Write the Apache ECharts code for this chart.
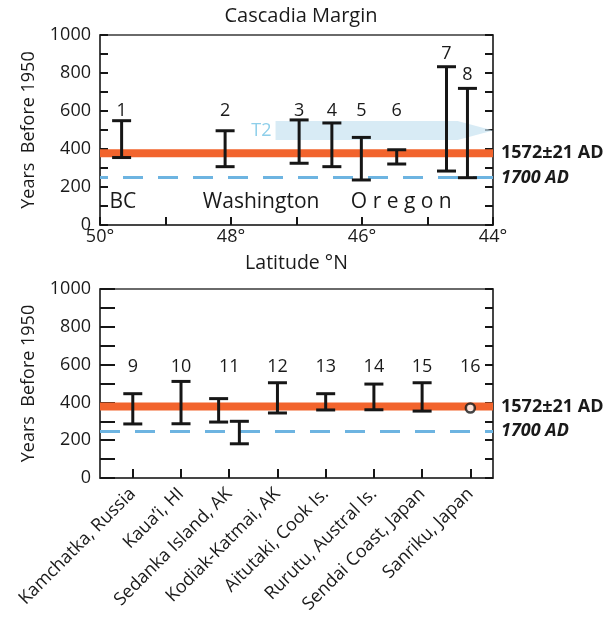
<!DOCTYPE html>
<html>
<head>
<meta charset="utf-8">
<script src="https://cdn.jsdelivr.net/npm/echarts@6/dist/echarts.min.js"></script>
<style>
html,body{margin:0;padding:0;background:#fff;}
#chart{width:611px;height:619px;}
</style>
</head>
<body>
<div id="chart"></div>
<script>
// ---------- DATA ----------
// Cascadia (top panel): latitude (°N), low / high age (years before 1950)
const cascadiaIds  = ['1','2','3','4','5','6','7','8'];
const cascadiaLat  = [49.67, 48.09, 46.96, 46.46, 46.01, 45.47, 44.71, 44.39];
const cascadiaLow  = [355, 307, 325, 307, 237, 321, 284, 249];
const cascadiaHigh = [549, 496, 553, 537, 461, 396, 833, 719];
const regionNames  = ['BC', 'Washington', 'O r e g o n'];
const regionLat    = [49.65, 47.54, 45.40];
const regionAge    = [123, 123, 123];
// T2 arrow (latitude: start, arrow base, tip; age: low, high, tip)
const t2Lat  = [47.32, 44.54, 44.0];
const t2Age  = [447, 547, 497];
const latTickLabels = [50, 48, 46, 44];

// Pacific sites (bottom panel)
const pacificSites = ['Kamchatka, Russia', 'Kaua\u2019i, HI', 'Sedanka Island, AK', 'Kodiak-Katmai, AK',
                      'Aitutaki, Cook Is.', 'Rurutu, Austral Is.', 'Sendai Coast, Japan', 'Sanriku, Japan'];
const pacificIds   = ['9','10','11','12','13','14','15','16'];
const pacificBarX    = [0, 1, 1.78, 2.21, 3, 4, 5, 6];
const pacificBarLow  = [286, 287, 296, 181, 344, 360, 361, 354];
const pacificBarHigh = [446, 511, 420, 300, 504, 446, 497, 504];
const pacificPointX  = [7];
const pacificPointAge = [370];

// Reference events
const bandLow = 357, bandHigh = 399, bandCenter = 378;  // 1572±21 AD
const bandLabel = '1572\u00b121 AD';
const event1700 = 250;                                   // 1700 AD
const event1700Label = '1700 AD';

// ---------- STYLE ----------
const FONT = 'Open Sans';
const INK = '#161616';
const TXT = '#1a1a1a';
const FRAME = '#3a3a3a';
const ORANGE = '#f2642d';
const DASH = '#6db4e1';

function errorBarRender(params, api) {
  const x = api.value(0), lo = api.value(1), hi = api.value(2);
  const p1 = api.coord([x, lo]), p2 = api.coord([x, hi]);
  const hw = 9.5;
  const st = {stroke: INK, lineWidth: 3};
  return {type: 'group', children: [
    {type: 'line', shape: {x1: p1[0], y1: p1[1], x2: p2[0], y2: p2[1]}, style: st},
    {type: 'line', shape: {x1: p1[0]-hw, y1: p1[1], x2: p1[0]+hw, y2: p1[1]}, style: st},
    {type: 'line', shape: {x1: p2[0]-hw, y1: p2[1], x2: p2[0]+hw, y2: p2[1]}, style: st}
  ]};
}
function makeTextRender(size) {
  return function (params, api) {
    const p = api.coord([api.value(0), api.value(1)]);
    return {type: 'text', x: p[0], y: p[1], style: {
      text: String(api.value(2)), font: size + 'px "' + FONT + '"', fill: TXT,
      textAlign: 'center', textVerticalAlign: 'middle'}};
  };
}
function idLabelAge(hi, base) { return hi > base ? hi + 70 : base; }

function yAxes(gridIndex, leftTickLen) {
  const common = {type: 'value', gridIndex: gridIndex, min: 0, max: 1000, interval: 100,
    splitLine: {show: false},
    axisLine: {show: true, onZero: false, lineStyle: {color: FRAME, width: 1.5}}};
  return [
    Object.assign({}, common, {position: 'left',
      name: 'Years  Before 1950', nameLocation: 'middle', nameGap: 62,
      nameTextStyle: {fontFamily: FONT, fontSize: 18, color: TXT},
      axisTick: {show: true, inside: true, length: leftTickLen, lineStyle: {color: INK, width: 2}},
      axisLabel: {show: true, margin: 9, fontFamily: FONT, fontSize: 18, color: TXT,
        formatter: v => (v % 200 === 0 ? String(v) : '')}}),
    Object.assign({}, common, {position: 'right',
      axisTick: {show: true, inside: true, length: 8, lineStyle: {color: INK, width: 2}},
      axisLabel: {show: false}})
  ];
}
function refLines(pos) {
  return {silent: true, symbol: ['none', 'none'], data: [
    {yAxis: bandCenter, lineStyle: {color: 'rgba(0,0,0,0)', width: 1},
      label: {show: true, position: pos, distance: 8, formatter: bandLabel,
        fontFamily: FONT, fontSize: 18, fontWeight: 'bold', color: TXT}},
    {yAxis: event1700, lineStyle: {color: DASH, width: 3, type: [20, 15]},
      label: {show: true, position: pos, distance: 8, formatter: event1700Label,
        fontFamily: FONT, fontSize: 18, fontWeight: 'bold', fontStyle: 'italic', color: TXT}}
  ]};
}

const chart = echarts.init(document.getElementById('chart'), null, {renderer: 'canvas'});

const option = {
  animation: false,
  backgroundColor: '#fff',
  title: {text: 'Cascadia Margin', left: 296, top: 1, textAlign: 'center',
    textStyle: {fontFamily: FONT, fontSize: 20, fontWeight: 'normal', color: TXT}},
  grid: [
    {left: 100, top: 35, width: 393, height: 190, show: true, borderColor: FRAME, borderWidth: 1.5},
    {left: 100, top: 289, width: 393, height: 189, show: true, borderColor: FRAME, borderWidth: 1.5}
  ],
  xAxis: [
    {type: 'value', gridIndex: 0, min: 44, max: 50, interval: 1, inverse: true,
      name: 'Latitude \u00b0N', nameLocation: 'middle', nameGap: 28,
      nameTextStyle: {fontFamily: FONT, fontSize: 19.5, color: TXT},
      splitLine: {show: false},
      axisLine: {show: true, onZero: false, lineStyle: {color: FRAME, width: 1.5}},
      axisTick: {show: true, inside: true, length: 8, lineStyle: {color: INK, width: 2}},
      axisLabel: {margin: 3, fontFamily: FONT, fontSize: 18, color: TXT,
        formatter: v => (latTickLabels.indexOf(v) >= 0 ? v + '\u00b0' : '')}},
    {type: 'value', gridIndex: 1, min: -0.68, max: 7.47,
      splitLine: {show: false},
      axisLine: {show: true, onZero: false, lineStyle: {color: FRAME, width: 1.5}},
      axisTick: {show: true, inside: true, length: 9, lineStyle: {color: INK, width: 2},
        customValues: pacificSites.map((s, i) => i)},
      axisLabel: {show: true, rotate: 45, margin: 13, fontFamily: FONT, fontSize: 18, color: TXT,
        customValues: pacificSites.map((s, i) => i),
        formatter: v => pacificSites[Math.round(v)] || ''}}
  ],
  yAxis: yAxes(0, 8).concat(yAxes(1, 15)),
  series: [
    // top panel reference band + 1700 line
    {type: 'line', xAxisIndex: 0, yAxisIndex: 0, data: [], z: 1,
      markArea: {silent: true, itemStyle: {color: ORANGE}, data: [[{yAxis: bandLow}, {yAxis: bandHigh}]]},
      markLine: refLines('start')},
    // T2 arrow
    {type: 'custom', xAxisIndex: 0, yAxisIndex: 0, z: 2, silent: true,
      data: [[t2Lat[0], t2Lat[1], t2Lat[2], t2Age[0], t2Age[1], t2Age[2]]],
      renderItem: function (params, api) {
        const a = api.coord([api.value(0), api.value(4)]);
        const b = api.coord([api.value(1), api.value(4)]);
        const c = api.coord([api.value(2), api.value(5)]);
        const d = api.coord([api.value(1), api.value(3)]);
        const e = api.coord([api.value(0), api.value(3)]);
        const lbl = api.coord([api.value(0), api.value(5)]);
        return {type: 'group', children: [
          {type: 'polygon', shape: {points: [a, b, c, d, e]}, style: {fill: 'rgba(200,226,241,0.7)'}},
          {type: 'text', x: lbl[0] - 4, y: lbl[1], style: {text: 'T2', font: '18px "' + FONT + '"',
            fill: '#8ecfea', textAlign: 'right', textVerticalAlign: 'middle'}}
        ]};
      }},
    // region names
    {type: 'custom', xAxisIndex: 0, yAxisIndex: 0, z: 3, silent: true,
      data: regionNames.map((n, i) => [regionLat[i], regionAge[i], n]),
      renderItem: makeTextRender(21)},
    // Cascadia error bars
    {type: 'custom', xAxisIndex: 0, yAxisIndex: 0, z: 5, silent: true,
      data: cascadiaLat.map((x, i) => [x, cascadiaLow[i], cascadiaHigh[i]]),
      renderItem: errorBarRender},
    // Cascadia ids
    {type: 'custom', xAxisIndex: 0, yAxisIndex: 0, z: 5, silent: true,
      data: cascadiaLat.map((x, i) => [x, idLabelAge(cascadiaHigh[i], 600), cascadiaIds[i]]),
      renderItem: makeTextRender(18)},

    // bottom panel reference band + 1700 line
    {type: 'line', xAxisIndex: 1, yAxisIndex: 2, data: [], z: 1,
      markArea: {silent: true, itemStyle: {color: ORANGE}, data: [[{yAxis: bandLow}, {yAxis: bandHigh}]]},
      markLine: refLines('end')},
    {type: 'custom', xAxisIndex: 1, yAxisIndex: 2, z: 5, silent: true,
      data: pacificBarX.map((x, i) => [x, pacificBarLow[i], pacificBarHigh[i]]),
      renderItem: errorBarRender},
    {type: 'scatter', xAxisIndex: 1, yAxisIndex: 2, z: 6, silent: true,
      symbol: 'circle', symbolSize: 9,
      itemStyle: {color: '#fff', borderColor: INK, borderWidth: 2.5},
      data: pacificPointX.map((x, i) => [x, pacificPointAge[i]])},
    {type: 'custom', xAxisIndex: 1, yAxisIndex: 2, z: 5, silent: true,
      data: pacificIds.map((id, i) => [i, 590, id]),
      renderItem: makeTextRender(18)}
  ]
};
chart.setOption(option);
</script>
</body>
</html>
